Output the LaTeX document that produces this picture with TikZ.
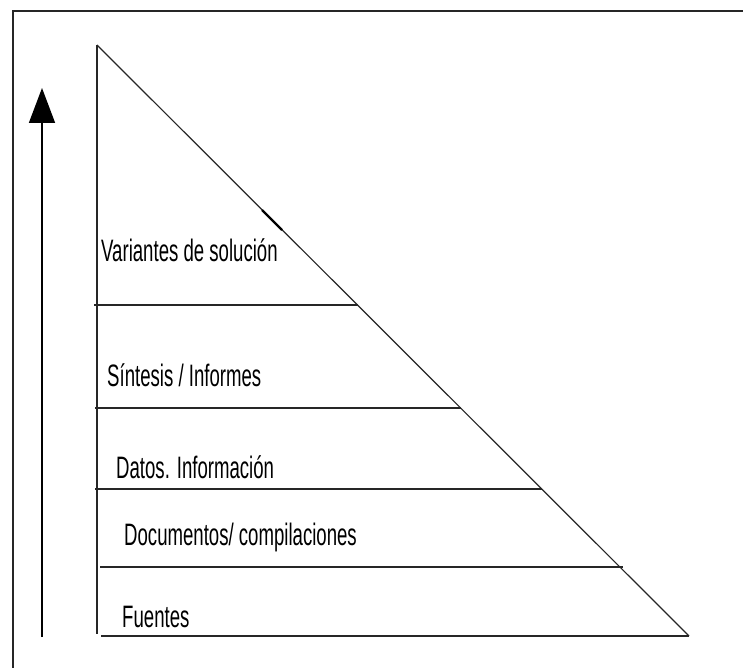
\documentclass[tikz,border=0pt]{standalone}
\usepackage{fontspec}
\usetikzlibrary{arrows.meta}
\newfontfamily\condfont[FakeStretch=0.6]{Liberation Sans}
\tikzset{
  frameline/.style={line width=2pt, draw=black!85},
  levelline/.style={line width=1.6pt, draw=black!85},
  hypline/.style={line width=1.2pt, draw=black!85},
  lbl/.style={anchor=base west, inner sep=0pt, font=\condfont\fontsize{31}{31}\selectfont, text=black},
  uparrow/.style={line width=1.6pt, draw=black, -{Triangle[width=26pt,length=35pt]}}
}
\begin{document}
\begin{tikzpicture}[x=1pt,y=-1pt]
\useasboundingbox (0,0) rectangle (743,668);
% partial frame
\coordinate (fbl) at (12.5,668);
\coordinate (ftl) at (12.5,11.5);
\coordinate (ftr) at (743,11.5);
\draw[frameline] (fbl) -- (ftl) -- (ftr);
% arrow
\coordinate (abot) at (42,637);
\coordinate (atop) at (42,88);
\draw[uparrow] (abot) -- (atop);
% triangle
\coordinate (apex) at (97,45);
\coordinate (vbot) at (97,634);
\coordinate (bl) at (101,636);
\coordinate (br) at (689,636);
\draw[levelline] (apex) -- (vbot);
\draw[hypline] (apex) -- (br);
\draw[levelline] (bl) -- (br);
\coordinate (m1) at (262,210);
\coordinate (m2) at (282,230);
\draw[line width=2.2pt, draw=black] (m1) -- (m2);
% level lines
\coordinate (l1a) at (94,305);  \coordinate (l1b) at (358,305);
\coordinate (l2a) at (95,408);  \coordinate (l2b) at (461,408);
\coordinate (l3a) at (95,489);  \coordinate (l3b) at (542,489);
\coordinate (l4a) at (100,567); \coordinate (l4b) at (623,567);
\draw[levelline] (l1a) -- (l1b);
\draw[levelline] (l2a) -- (l2b);
\draw[levelline] (l3a) -- (l3b);
\draw[levelline] (l4a) -- (l4b);
% labels
\node[lbl] (t1) at (101,261) {Variantes de solución};
\node[lbl] (t2) at (107,386) {Síntesis / Informes};
\node[lbl] (t3) at (116,478) {Datos. Información};
\node[lbl] (t4) at (124,545) {Documentos/ compilaciones};
\node[lbl] (t5) at (122,627) {Fuentes};
\end{tikzpicture}
\end{document}
